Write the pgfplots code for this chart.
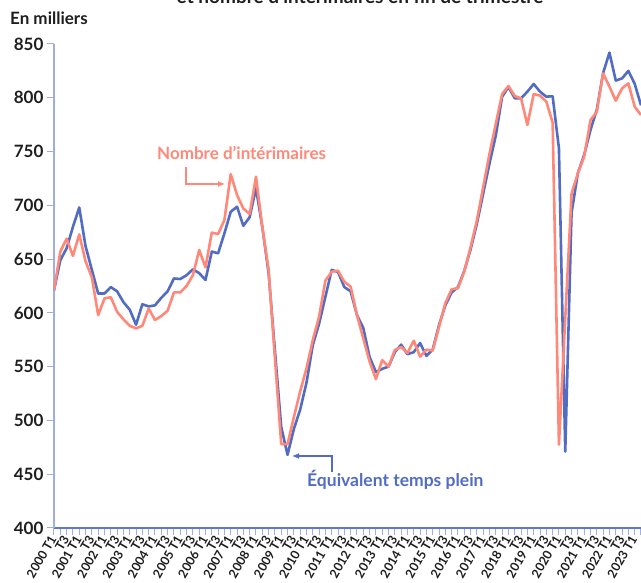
\documentclass[border=0pt]{standalone}
\usepackage{pgfplots}
\pgfplotsset{compat=1.18}
\usepackage{fontspec}
\setmainfont{Lato}
\usetikzlibrary{arrows.meta}
\definecolor{etp}{RGB}{82,108,196}
\definecolor{interim}{RGB}{255,136,120}
\definecolor{yax}{RGB}{160,174,228}
\definecolor{xax}{RGB}{96,118,202}
\definecolor{txt}{RGB}{30,30,30}
\begin{document}
\begin{tikzpicture}[x=1pt,y=1pt]
\begin{axis}[
  at={(54pt,55pt)}, anchor=south west,
  scale only axis, width=587pt, height=484pt,
  xmin=0, xmax=93, ymin=400, ymax=850,
  axis x line=bottom, axis y line=left,
  x axis line style={-, draw=xax, line width=1.2pt},
  y axis line style={-, draw=yax, line width=1.2pt},
  ytick={400,450,...,850},
  yticklabels={400,450,500,550,600,650,700,750,800,850},
  xtick={0,2,...,92},
  xticklabels={2000 T1,T3,2001 T1,T3,2002 T1,T3,2003 T1,T3,2004 T1,T3,2005 T1,T3,2006 T1,T3,2007 T1,T3,2008 T1,T3,2009 T1,T3,2010 T1,T3,2011 T1,T3,2012 T1,T3,2013 T1,T3,2014 T1,T3,2015 T1,T3,2016 T1,T3,2017 T1,T3,2018 T1,T3,2019 T1,T3,2020 T1,T3,2021 T1,T3,2022 T1,T3,2023 T1},
  minor xtick={1,3,...,93},
  tick align=outside,
  major tick length=7pt, minor tick length=7pt,
  tick style={draw=yax, line width=1pt},
  yticklabel style={font=\fontsize{17}{17}\selectfont\bfseries, text=txt},
  xticklabel style={font=\fontsize{12.5}{12.5}\selectfont\bfseries, text=txt, rotate=60, anchor=east, inner sep=1.5pt},
]
\addplot[etp, line width=2.6pt, line join=round] coordinates {
(0,621) (1,649) (2,660) (3,680) (4,698) (5,662) (6,640) (7,618) (8,618) (9,624)
(10,620) (11,610) (12,603) (13,589) (14,608) (15,606) (16,607) (17,614) (18,620) (19,632)
(20,631.5) (21,635) (22,640.5) (23,637) (24,630.6) (25,657) (26,655.4) (27,674) (28,694) (29,698.7)
(30,681) (31,689) (32,716) (33,680) (34,637) (35,565) (36,494) (37,468) (38,492) (39,510)
(40,535) (41,570) (42,590) (43,615) (44,640) (45,638) (46,624) (47,620) (48,598) (49,586)
(50,559) (51,545) (52,548) (53,550) (54,563.5) (55,570.5) (56,561.6) (57,563.5) (58,572) (59,560)
(60,566) (61,588.7) (62,607) (63,619) (64,624) (65,639) (66,659) (67,683) (68,711) (69,739)
(70,765) (71,801) (72,810) (73,799.5) (74,799.5) (75,805.7) (76,812.8) (77,805.7) (78,801) (79,801.5)
(80,753) (81,471) (82,693) (83,730) (84,747) (85,770) (86,789) (87,823) (88,842) (89,816)
(90,818) (91,825) (92,813) (93,793)
};
\addplot[interim, line width=2.6pt, line join=round] coordinates {
(0,621) (1,657) (2,669) (3,653) (4,673) (5,648) (6,633) (7,598) (8,613.5) (9,614.5)
(10,601) (11,594) (12,588) (13,585.6) (14,588) (15,604) (16,593.4) (17,597) (18,602) (19,619)
(20,619) (21,625) (22,635) (23,658.5) (24,642.4) (25,674.6) (26,673.3) (27,686.4) (28,729) (29,709.6)
(30,697) (31,692) (32,726.6) (33,680) (34,640) (35,558) (36,478) (37,478) (38,503) (39,527)
(40,548.4) (41,574.8) (42,596.5) (43,630) (44,638.3) (45,639.2) (46,629) (47,624.4) (48,598) (49,576.3)
(50,554.7) (51,538.5) (52,556) (53,550) (54,565.5) (55,568.3) (56,562.7) (57,574.2) (58,559.3) (59,565.8)
(60,565) (61,587) (62,609) (63,622) (64,622.8) (65,638.3) (66,661) (67,686) (68,717) (69,748)
(70,776) (71,803.5) (72,811) (73,801.6) (74,799.5) (75,774.7) (76,803.5) (77,802) (78,796.4) (79,777)
(80,477.5) (81,595) (82,711) (83,729.7) (84,745.3) (85,779.3) (86,787) (87,822.7) (88,810.4) (89,797.3)
(90,808.8) (91,813.4) (92,791.7) (93,784)
};
\end{axis}
% annotations
\node[anchor=base, font=\fontsize{19}{19}\selectfont\bfseries, text=txt, inner sep=0pt] at (360,579) {et nombre d’intérimaires en fin de trimestre};
\node[anchor=base west, font=\fontsize{17}{17}\selectfont\bfseries, text=txt, inner sep=0pt] at (10,558) {En milliers};
\node[anchor=base west, font=\fontsize{17}{17}\selectfont\bfseries, text=interim, inner sep=0pt] at (157,423) {Nombre d’intérimaires};
\draw[interim, line width=1.2pt, -{Latex[length=7pt,width=6pt]}] (186,416) -- (186,399) -- (225,399);
\node[anchor=base west, font=\fontsize{17.5}{17.5}\selectfont\bfseries, text=etp, inner sep=0pt] at (307,96) {Équivalent temps plein};
\draw[etp, line width=1.2pt, -{Latex[length=7pt,width=6pt]}] (332,111) -- (332,127) -- (292,127);
\pgfresetboundingbox
\path[use as bounding box] (0,0) rectangle (641,583);
\end{tikzpicture}
\end{document}
